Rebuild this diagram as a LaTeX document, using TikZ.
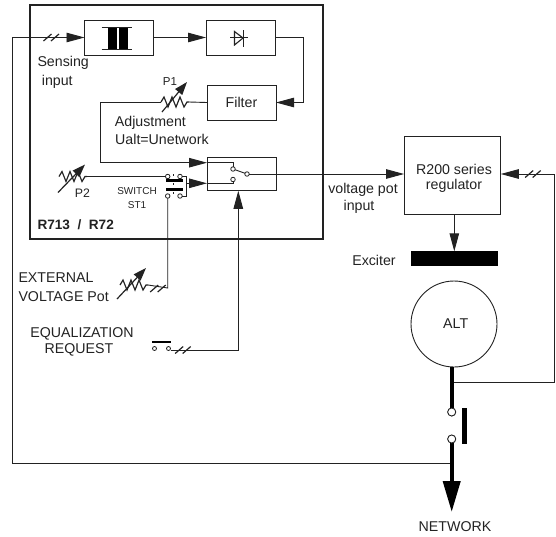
\documentclass[tikz,border=0pt]{standalone}
\usepackage{fontspec}
\setmainfont{Liberation Sans}
\usetikzlibrary{arrows.meta, calc}
\definecolor{ink}{HTML}{222222}
\tikzset{
    wire/.style={draw=ink, line width=0.9pt},
    head/.style={wire, -{Triangle[length=18pt,width=9.5pt]}},
    box/.style={draw=ink, line width=0.9pt, outer sep=0pt, inner sep=0pt, minimum width=#1},
    block/.style={box=69pt, minimum height=35pt},
    lab/.style={text=ink, inner sep=0pt, font=\fontsize{14.2}{16}\selectfont},
    small/.style={text=ink, inner sep=0pt, font=\fontsize{10}{12}\selectfont},
    contact/.style={circle, draw=ink, fill=white, line width=0.8pt, inner sep=0pt, outer sep=0pt, minimum size=#1},
    contact/.default=4.5pt,
    bar/.style={fill=black, inner sep=0pt, outer sep=0pt},
    adjust/.style={draw=ink, line width=1.2pt, -{Triangle[length=13pt,width=9pt]}},
    pot/.pic={
        \coordinate (-in) at (0,0);
        \coordinate (-out) at (28,0);
        \draw[ink, line width=1.2pt] (-in) -- (3,-5) -- (7,5) -- (11,-5) -- (15,5) -- (19,-5) -- (23,5) -- (26,0) -- (-out);
    },
    slashes/.pic={
        \draw[ink, line width=1.2pt] (-11.5,3.5) -- (-3.5,-3.5) (-4,3.5) -- (4,-3.5);
    }
}

\begin{document}
\begin{tikzpicture}[x=1pt, y=-1pt]
    \useasboundingbox (0,0) rectangle (556,536);
    % R713 / R72 frame
    \node[draw=ink, line width=2pt, inner sep=0pt, outer sep=0pt, minimum width=292.7pt, minimum height=234pt] (frame) at (176.3,122) {};

    \node[block] (xfmr) at (119,37.5) {};
    \node[block] (rect) at (240.5,37.5) {};
    \node[block, text=ink] (filter) at (241.5,102.5) {\fontsize{14.2}{16}\selectfont Filter};
    \node[box=69pt, minimum height=33.5pt] (sw) at (241.5,174) {};
    \node[box=96.7pt, minimum height=78pt] (reg) at (452.4,175.7) {};
    \node[bar, minimum width=86.7pt, minimum height=14.4pt] (exciter) at (454.3,258.5) {};
    \node[circle, draw=ink, line width=0.9pt, inner sep=0pt, outer sep=0pt, minimum size=86pt] (alt) at (454,324) {};

    % transformer
    \node[bar, minimum width=8.7pt, minimum height=23pt] (coreA) at (112.3,38.5) {};
    \node[bar, minimum width=8.7pt, minimum height=23pt] (coreB) at (123.3,38.5) {};
    \draw[wire, line width=0.6pt] (101.7,27.5) -- (132.3,27.5) (101.7,49.5) -- (132.3,49.5);
    % diode
    \draw[wire] (230,37.5) -- (248,37.5);
    \draw[wire, line width=1.1pt] (234.5,31.5) -- (234.5,45) -- (243,38) -- cycle;
    \draw[ink, line width=1.5pt] (243.5,30) -- (243.5,47);

    \node[contact] (swa) at (233,169) {};
    \node[contact] (swb) at (233,179.5) {};
    \node[contact] (swc) at (247,174) {};
    \coordinate (swaIn) at (sw.west |- 0,162.7);
    \coordinate (swbIn) at (sw.west |- 0,183.3);
    \draw[wire] (swaIn) -| (swa);
    \draw[wire] (swbIn) -| (swb);
    \draw[wire] (swa) -- (swc);

    % ST1
    \node[contact] (sta) at (167.7,176.5) {};
    \node[contact] (stb) at (180,176.5) {};
    \node[contact] (stc) at (167.7,196) {};
    \node[contact] (std) at (180,196) {};
    \node[bar, minimum width=17pt, minimum height=3pt] (stup) at (174.5,180.5) {};
    \node[bar, minimum width=17pt, minimum height=3pt] (stlow) at (174.5,189) {};
    \draw[ink, line width=0.8pt, dash pattern=on 2pt off 7pt] (173.5,174) -- (173.5,196);
    \coordinate (stjoin) at (186.5,183.3);
    \draw[wire] (stb) -| (stjoin) |- (std);
    \draw[head] (stjoin) -- (swbIn);

    % pots
    \pic (pone) at (161,102) {pot};
    \pic (ptwo) at (59,176.5) {pot};
    \pic (pext) at (120,285) {pot};
    \draw[adjust] ($(pone-in)+(1,10)$) -- ($(pone-in)+(26,-20)$);
    \draw[adjust] ($(ptwo-in)+(-1,16)$) -- ($(ptwo-in)+(26,-12)$);
    \draw[adjust] ($(pext-in)+(-3,14)$) -- ($(pext-in)+(26,-17)$);
    \draw[wire] (ptwo-out) -- (sta);
    \draw[wire] (filter.west) -- (pone-out);
    \coordinate (pbend) at (100.7,102);
    \draw[head] (pone-in) -- (pbend) |- (swaIn);
    \coordinate (rectbend) at (303,37.5);
    \draw[head] (rect.east) -- (rectbend) |- (filter.east);

    % external pot and equalization
    \coordinate (extcorner) at (167.7,288);
    \draw[wire] (pext-out) -- (extcorner) -- (stc);
    \pic at (161.7,288.5) {slashes};

    \node[contact=4pt] (eqa) at (154.5,348.5) {};
    \node[contact=4pt] (eqb) at (168.5,348.5) {};
    \node[bar, minimum width=19pt, minimum height=2.6pt] (eqbar) at (161.2,342) {};
    \coordinate (eqcorner) at (238.3,350);
    \draw[head] (eqb.east |- eqcorner) -- (eqcorner) -- (sw.south -| eqcorner);
    \pic at (186.7,350) {slashes};

    % sensing line
    \coordinate (netcorner) at (12,463);
    \coordinate (sensecorner) at (12,37.5);
    \node[contact=8pt] (main) at (451.7,412) {};
    \node[contact=8pt] (mainb) at (451.7,439) {};
    \coordinate (netjoin) at (451.7,463);
    \coordinate (nettip) at (451.7,512);
    \draw[head] (netjoin) -- (netcorner) -- (sensecorner) -- (xfmr.west);
    \pic at (55,37.5) {slashes};
    \draw[head] (xfmr.east) -- (rect.west);

    % output and regulator
    \draw[head] (swc) -- (swc -| reg.west);
    \draw[head] (reg.south -| exciter.north) -- (exciter.north);
    \coordinate (fbjoin) at (451.7,382.7);
    \coordinate (fbcorner) at (554,382.7);
    \coordinate (fbtop) at (554,174);
    \draw[head] (fbjoin) -- (fbcorner) -- (fbtop) -- (fbtop -| reg.east);
    \pic at (536.7,174) {slashes};

    % main line
    \draw[black, line width=4pt] (alt.south -| main) -- (main);
    \draw[black, line width=4pt, -{Triangle[length=31pt,width=17pt]}] (mainb) -- (nettip);
    \node[contact=8pt] at (main) {};
    \node[contact=8pt] at (mainb) {};
    \node[bar, minimum width=5.5pt, minimum height=36pt] (mainbar) at (464.7,426) {};

    % labels
    \node[lab, anchor=west] (sense) at (37.3,62.7) {Sensing};
    \node[lab, anchor=west] (senseb) at (41.7,82) {input};
    \node[text=ink, inner sep=0pt, font=\fontsize{11.5}{12}\selectfont] (pname) at (170,82) {P1};
    \node[text=ink, inner sep=0pt, font=\fontsize{12.3}{14}\selectfont] (ptwoname) at (82.5,193.5) {P2};
    \node[lab, anchor=west] (adj) at (114.7,123) {Adjustment};
    \node[lab, anchor=west] (ualt) at (115,139) {Ualt=Unetwork};
    \node[small] (swname) at (137,191) {SWITCH};
    \node[small] (stname) at (137,205) {ST1};
    \node[text=ink, inner sep=0pt, anchor=west, font=\bfseries\fontsize{13.6}{16}\selectfont] (series) at (37.3,225) {R713~~/~~R72};
    \node[lab] (vpot) at (363,190) {voltage pot};
    \node[lab] (vinput) at (359,206.7) {input};
    \node[lab] (regname) at (454,169) {R200 series};
    \node[lab] (regnameb) at (454,185.7) {regulator};
    \node[lab] (excname) at (374,260) {Exciter};
    \node[lab] (altname) at (455.7,324) {ALT};
    \node[lab, anchor=west] (extv) at (18.3,278) {EXTERNAL};
    \node[lab, anchor=west] (extvb) at (18.3,297) {VOLTAGE Pot};
    \node[lab] (eqname) at (82,334) {EQUALIZATION};
    \node[lab] (eqnameb) at (79,350) {REQUEST};
    \node[lab] (netname) at (455,527) {NETWORK};
\end{tikzpicture}
\end{document}
